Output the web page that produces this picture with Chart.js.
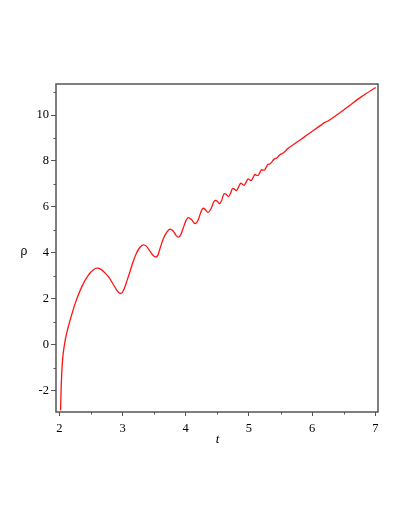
<!DOCTYPE html>
<html>
<head>
<meta charset="utf-8">
<script src="https://cdn.jsdelivr.net/npm/chart.js@4"></script>
<style>
  body { margin: 0; background: #fff; }
  #wrap { width: 409px; height: 529px; position: relative; }
</style>
</head>
<body>
<div id="wrap"><canvas id="chart"></canvas></div>
<script>
// valores (t, rho)
const tValues = [
  2.02, 2.032, 2.052, 2.074, 2.095, 2.13, 2.174, 2.253, 2.358, 2.463, 2.54, 2.60,
  2.66, 2.72, 2.78, 2.86, 2.92, 2.965, 2.995, 3.03, 3.07, 3.12, 3.17, 3.22,
  3.27, 3.33, 3.38, 3.437, 3.49, 3.526, 3.56, 3.60, 3.647, 3.70, 3.752, 3.80,
  3.85, 3.884, 3.92, 3.96, 4.00, 4.04, 4.09, 4.147, 4.20, 4.24, 4.278, 4.31,
  4.35, 4.40, 4.44, 4.47, 4.50, 4.535, 4.57, 4.61, 4.64, 4.675, 4.71, 4.742,
  4.77, 4.80, 4.835, 4.868, 4.895, 4.921, 4.955, 4.989, 5.01, 5.035, 5.065, 5.094,
  5.115, 5.14, 5.17, 5.20, 5.22, 5.245, 5.275, 5.305, 5.33, 5.358, 5.385, 5.41,
  5.435, 5.465, 5.49, 5.52, 5.55, 5.62, 5.75, 5.884, 6.04, 6.147, 6.2, 6.25,
  6.4, 6.567, 6.78, 7.005
];
const rhoValues = [
  -2.85, -1.67, -0.65, -0.14, 0.22, 0.65, 1.09, 1.81, 2.54, 3.04, 3.26, 3.33,
  3.28, 3.13, 2.95, 2.6, 2.33, 2.23, 2.27, 2.46, 2.78, 3.2, 3.63, 3.98,
  4.22, 4.35, 4.28, 4.06, 3.87, 3.82, 3.9, 4.25, 4.62, 4.9, 5.03, 4.95,
  4.75, 4.68, 4.78, 5.08, 5.38, 5.53, 5.45, 5.27, 5.45, 5.78, 5.94, 5.88,
  5.76, 5.92, 6.2, 6.28, 6.24, 6.14, 6.3, 6.58, 6.55, 6.45, 6.6, 6.81,
  6.77, 6.71, 6.86, 7.03, 6.99, 6.94, 7.08, 7.22, 7.18, 7.14, 7.28, 7.41,
  7.38, 7.36, 7.48, 7.62, 7.6, 7.6, 7.74, 7.86, 7.86, 7.94, 8.04, 8.1,
  8.12, 8.2, 8.27, 8.31, 8.37, 8.55, 8.8, 9.06, 9.37, 9.57, 9.68, 9.74,
  10.02, 10.36, 10.8, 11.2
];

const xMajorTicks = [2, 3, 4, 5, 6, 7];
const xMinorTicks = [2.5, 3.5, 4.5, 5.5, 6.5];
const yMajorTicks = [-2, 0, 2, 4, 6, 8, 10];
const yMinorTicks = [-1, 1, 3, 5, 7, 9, 11];

const frameColor = '#555555';

// moldura + ticks menores + títulos dos eixos
const framePlugin = {
  id: 'frame',
  afterDraw(chart) {
    const { ctx, chartArea: a, scales } = chart;
    ctx.save();
    ctx.strokeStyle = frameColor;
    ctx.lineWidth = 1.5;
    ctx.strokeRect(a.left, a.top, a.right - a.left, a.bottom - a.top);

    ctx.lineWidth = 1;
    ctx.beginPath();
    xMinorTicks.forEach(v => {
      const px = Math.round(scales.x.getPixelForValue(v)) + 0.5;
      ctx.moveTo(px, a.bottom);
      ctx.lineTo(px, a.bottom + 2.5);
    });
    yMinorTicks.forEach(v => {
      const py = Math.round(scales.y.getPixelForValue(v)) + 0.5;
      ctx.moveTo(a.left, py);
      ctx.lineTo(a.left - 2.5, py);
    });
    ctx.stroke();

    ctx.fillStyle = '#000';
    ctx.textAlign = 'center';
    ctx.textBaseline = 'middle';
    ctx.font = 'italic 13px "Liberation Serif"';
    ctx.fillText('t', (a.left + a.right) / 2 + 0.5, 440);
    ctx.font = '12px "Liberation Sans"';
    ctx.fillText('ρ', 24, 252);
    ctx.restore();
  }
};

const ctx = document.getElementById('chart');

new Chart(ctx, {
  type: 'line',
  data: {
    datasets: [{
      data: tValues.map((t, i) => ({ x: t, y: rhoValues[i] })),
      borderColor: 'rgb(255, 20, 20)',
      borderWidth: 1.3,
      pointRadius: 0,
      fill: false,
      cubicInterpolationMode: 'monotone'
    }]
  },
  options: {
    responsive: true,
    maintainAspectRatio: false,
    animation: false,
    layout: { padding: { top: 84, right: 31, bottom: 77, left: 0 } },
    plugins: { legend: { display: false }, tooltip: { enabled: false } },
    scales: {
      x: {
        type: 'linear',
        min: 1.948,
        max: 7.041,
        afterBuildTicks: scale => { scale.ticks = xMajorTicks.map(v => ({ value: v })); },
        afterFit: scale => { scale.height = 40; },
        border: { display: false },
        grid: { drawOnChartArea: false, tickLength: 4, color: frameColor, lineWidth: 1 },
        ticks: {
          autoSkip: false,
          maxRotation: 0,
          padding: 5,
          color: '#000',
          font: { family: '"Liberation Serif"', size: 12.5 }
        }
      },
      y: {
        type: 'linear',
        min: -2.93,
        max: 11.35,
        afterBuildTicks: scale => { scale.ticks = yMajorTicks.map(v => ({ value: v })); },
        afterFit: scale => { scale.width = 56; },
        border: { display: false },
        grid: { drawOnChartArea: false, tickLength: 5, color: frameColor, lineWidth: 1 },
        ticks: {
          autoSkip: false,
          padding: 2,
          color: '#000',
          font: { family: '"Liberation Serif"', size: 12.5 }
        }
      }
    }
  },
  plugins: [framePlugin]
});
</script>
</body>
</html>
